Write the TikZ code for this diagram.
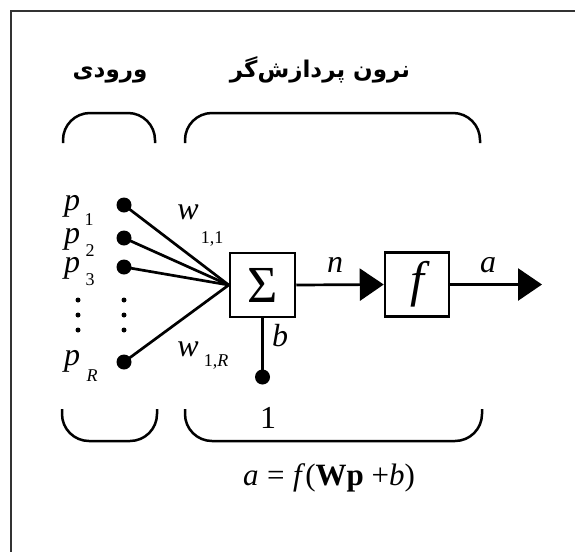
\documentclass[tikz,border=0pt]{standalone}
\usepackage{fontspec}
\setmainfont{Liberation Serif}
\newfontfamily\fa[Script=Arabic]{DejaVu Sans}
\TeXXeTstate=1
\usetikzlibrary{arrows.meta}
\begin{document}
\begin{tikzpicture}[x=1pt,y=-1pt,
  conn/.style={line width=2.7pt},
  boxst/.style={draw,line width=2.5pt,minimum width=64pt,minimum height=64pt,inner sep=0pt},
  dotst/.style={circle,fill,inner sep=0pt,minimum size=15pt},
  sdot/.style={circle,fill,inner sep=0pt,minimum size=5pt},
  brk/.style={line width=2.5pt,rounded corners=27pt},
  lbl/.style={inner sep=0pt,font=\fontsize{32}{32}\selectfont\itshape},
  sub/.style={inner sep=0pt,font=\fontsize{18}{18}\selectfont},
  tip/.style={-{Triangle[length=24pt,width=32pt]}},
  title/.style={inner sep=0pt,font=\fa\bfseries\fontsize{23}{27}\selectfont}
]
\useasboundingbox (0,0) rectangle (575,552);
\draw[line width=2pt,black!80] (575,11) -- (11,11) -- (11,552);

% titles
\node[title] (tin) at (110,75) {\beginR ورودی\endR};
\node[title] (tneu) at (320,70) {\beginR نرون پردازش‌گر\endR};

% brackets
\draw[brk] (63,143) -- (63,113) -- (155,113) -- (155,143);
\draw[brk] (185,143) -- (185,113) -- (480,113) -- (480,143);
\draw[brk] (62,409) -- (62,441) -- (157,441) -- (157,409);
\draw[brk] (185,409) -- (185,441) -- (482,441) -- (482,409);

% boxes
\node[boxst,minimum width=65pt] (sum) at (262.5,285) {\fontsize{52}{52}\selectfont Σ};
\node[boxst] (f) at (417,284.5) {\fontsize{50}{50}\selectfont\itshape f};

% input dots
\node[dotst] (p1) at (124,205) {};
\node[dotst] (p2) at (124,238) {};
\node[dotst] (p3) at (124,267) {};
\node[dotst] (pR) at (124,362) {};
\node[sdot] (e1) at (78,300) {};
\node[sdot] (e2) at (78,315) {};
\node[sdot] (e3) at (78,330) {};
\node[sdot] (e4) at (124,300) {};
\node[sdot] (e5) at (124,315) {};
\node[sdot] (e6) at (124,330) {};

% input labels
\node[lbl,anchor=base] (lp1) at (72,210) {p};
\node[sub] (sp1) at (89,220) {1};
\node[lbl,anchor=base] (lp2) at (72,243) {p};
\node[sub] (sp2) at (90,251) {2};
\node[lbl,anchor=base] (lp3) at (72,272) {p};
\node[sub] (sp3) at (90,280) {3};
\node[lbl,anchor=base] (lpR) at (72,365) {p};
\node[sub] (spR) at (92,376) {\itshape R};

% weights
\node[lbl] (w1) at (188,212) {w};
\node[sub] (sw1) at (212,239) {1,1};
\node[lbl] (wR) at (188,349) {w};
\node[sub] (swR) at (216,362) {1,\itshape R};

% connections
\draw[conn] (p1.center) -- (sum.west);
\draw[conn] (p2.center) -- (sum.west);
\draw[conn] (p3.center) -- (sum.west);
\draw[conn] (pR.center) -- (sum.west);

\coordinate (aout) at (542,284.5);
\draw[conn,tip] (sum.east) -- (f.west);
\draw[conn,tip] (f.east) -- (aout);

\node[dotst] (bd) at (262.5,377) {};
\draw[conn] (sum.south) -- (bd.center);

\node[lbl] (ln) at (335,265) {n};
\node[lbl] (la) at (488,265) {a};
\node[lbl] (lb) at (280,336) {b};
\node[inner sep=0pt,font=\fontsize{32}{32}\selectfont] (one) at (268,418) {1};

\node[inner sep=0pt,font=\fontsize{31}{31}\selectfont] (eq) at (329,478) {\textit{a}\;=\;\textit{f}(\textbf{Wp}~+\textit{b})};
\end{tikzpicture}
\end{document}
